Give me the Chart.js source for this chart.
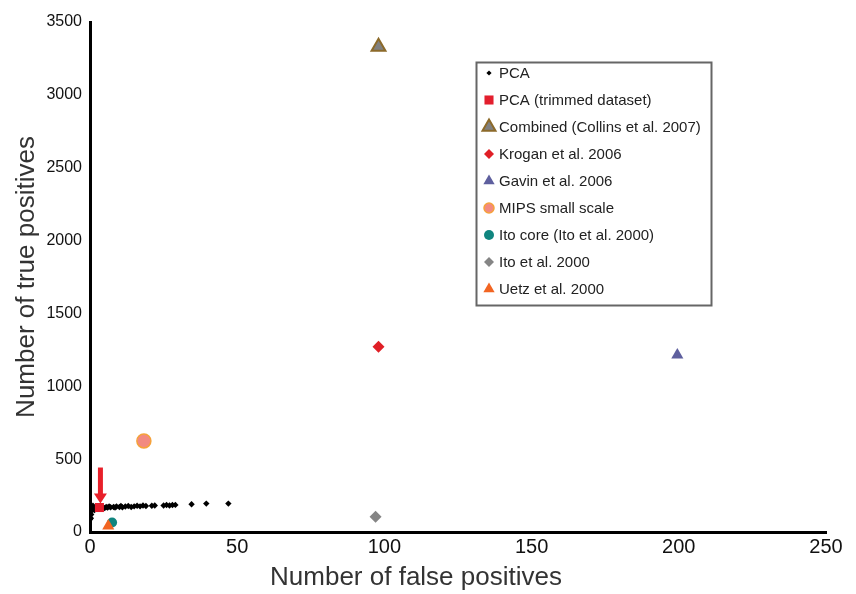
<!DOCTYPE html>
<html>
<head>
<meta charset="utf-8">
<script src="https://cdn.jsdelivr.net/npm/chart.js@4/dist/chart.umd.min.js"></script>
<style>
  html, body { margin: 0; padding: 0; background: #fff; }
  #wrap { width: 856px; height: 594px; }
</style>
</head>
<body>
<div id="wrap"><canvas id="chart"></canvas></div>
<script>
// --- data ---
const pcaX = [0, 0, 0, 0, 0.3, 0.4, 0.5, 0.8, 1, 1, 1.5, 2, 2.5, 3, 3.5, 4, 5, 5.5, 6, 6.5, 7, 8, 8.5, 9, 10, 10.5, 11, 12, 13, 14, 15, 16, 17, 18, 19, 21, 22, 25, 26, 27, 28, 29, 34.5, 39.5, 47];
const pcaY = [85, 100, 115, 130, 95, 120, 145, 160, 170, 180, 150, 165, 172, 160, 168, 175, 165, 172, 168, 175, 170, 172, 168, 175, 172, 178, 170, 175, 178, 172, 176, 180, 176, 182, 178, 180, 182, 182, 185, 182, 185, 186, 190, 195, 195];

const seriesNames = [
  'PCA', 'PCA (trimmed dataset)', 'Combined (Collins et al. 2007)', 'Krogan et al. 2006',
  'Gavin et al. 2006', 'MIPS small scale', 'Ito core (Ito et al. 2000)', 'Ito et al. 2000', 'Uetz et al. 2000'
];
// single-point series (false positives, true positives)
const trimmedPt  = [3.2, 168];
const combinedPt = [98, 3330];
const kroganPt   = [98, 1272];
const gavinPt    = [199.5, 1215];
const mipsPt     = [18.3, 625];
const itoCorePt  = [7.5, 65];
const itoPt      = [97, 105];
const uetzPt     = [6.2, 42];

const xTicks = [0, 50, 100, 150, 200, 250];
const yTicks = [0, 500, 1000, 1500, 2000, 2500, 3000, 3500];
const xTitle = 'Number of false positives';
const yTitle = 'Number of true positives';

// --- styles ---
const styles = [
  { pointStyle: 'rectRot',  radius: 3.2, bg: '#000000', border: '#000000', bw: 0, lr: 2.6 },
  { pointStyle: 'rect',     radius: 6.4, bg: '#e31e2d', border: '#e31e2d', bw: 0, lr: 6.4 },
  { pointStyle: 'triangle', radius: 8,   bg: '#808080', border: '#8c6a2a', bw: 2, lr: 7.5 },
  { pointStyle: 'rectRot',  radius: 6,   bg: '#e01f26', border: '#e01f26', bw: 0, lr: 5 },
  { pointStyle: 'triangle', radius: 7,   bg: '#5e5f9e', border: '#5e5f9e', bw: 0, lr: 6.5 },
  { pointStyle: 'circle',   radius: 7,   bg: '#f28a80', border: '#f5a23a', bw: 1.5, lr: 5 },
  { pointStyle: 'circle',   radius: 5,   bg: '#10857f', border: '#10857f', bw: 0, lr: 5 },
  { pointStyle: 'rectRot',  radius: 6,   bg: '#858585', border: '#858585', bw: 0, lr: 5 },
  { pointStyle: 'triangle', radius: 7,   bg: '#f26522', border: '#f26522', bw: 0, lr: 6.5 }
];

const pts = [
  pcaX.map((x, i) => ({ x, y: pcaY[i] })),
  [trimmedPt], [combinedPt], [kroganPt], [gavinPt], [mipsPt], [itoCorePt], [itoPt], [uetzPt]
].map((arr, i) => i === 0 ? arr : arr.map(p => ({ x: p[0], y: p[1] })));

const datasets = seriesNames.map((name, i) => ({
  label: name,
  data: pts[i],
  order: seriesNames.length - i, // later series drawn on top
  pointStyle: styles[i].pointStyle,
  pointRadius: styles[i].radius,
  pointHoverRadius: styles[i].radius,
  backgroundColor: styles[i].bg,
  borderColor: styles[i].border,
  pointBorderWidth: styles[i].bw,
  showLine: false
}));

const FONT = '"Liberation Sans", Arial, Helvetica, sans-serif';

// red arrow pointing at the trimmed PCA point
const arrowPlugin = {
  id: 'arrow',
  afterDatasetsDraw(chart) {
    const { ctx, scales } = chart;
    const cx = scales.x.getPixelForValue(trimmedPt[0]) + 1;
    const cy = scales.y.getPixelForValue(trimmedPt[1]);
    ctx.save();
    ctx.fillStyle = '#e8202a';
    ctx.fillRect(cx - 2.5, cy - 40, 5, 28);
    ctx.beginPath();
    ctx.moveTo(cx - 6.5, cy - 14);
    ctx.lineTo(cx + 6.5, cy - 14);
    ctx.lineTo(cx, cy - 4);
    ctx.closePath();
    ctx.fill();
    ctx.restore();
  }
};

// x title sits left of the axis centre in the original
const xTitlePlugin = {
  id: 'xTitle',
  afterDraw(chart) {
    const ctx = chart.ctx;
    ctx.save();
    ctx.font = '26px ' + FONT;
    ctx.fillStyle = '#333';
    ctx.textAlign = 'center';
    ctx.textBaseline = 'middle';
    ctx.fillText(xTitle, 416, 578);
    ctx.restore();
  }
};

// boxed legend inside the plot
const legendPlugin = {
  id: 'boxLegend',
  afterDraw(chart) {
    const ctx = chart.ctx;
    const bx = 476, by = 62, bw = 235, bh = 243;
    ctx.save();
    ctx.strokeStyle = '#666';
    ctx.lineWidth = 2;
    ctx.strokeRect(bx + 0.5, by + 0.5, bw, bh);
    ctx.font = '15px ' + FONT;
    ctx.textBaseline = 'middle';
    ctx.textAlign = 'left';
    const drawPoint = Chart.helpers && Chart.helpers.drawPoint;
    seriesNames.forEach((name, i) => {
      const y = by + 11 + i * 27;
      const s = styles[i];
      ctx.fillStyle = s.bg;
      ctx.strokeStyle = s.border;
      ctx.lineWidth = s.bw;
      if (drawPoint) {
        drawPoint(ctx, { pointStyle: s.pointStyle, rotation: 0, radius: s.lr, borderWidth: s.bw }, bx + 13, y);
      } else {
        ctx.beginPath(); ctx.arc(bx + 13, y, s.lr, 0, Math.PI * 2); ctx.fill();
      }
      ctx.fillStyle = '#222';
      ctx.fillText(name, bx + 23, y + 1);
    });
    ctx.restore();
  }
};

new Chart(document.getElementById('chart'), {
  type: 'scatter',
  data: { datasets },
  options: {
    responsive: true,
    maintainAspectRatio: false,
    animation: false,
    layout: { padding: { top: 22, right: 30, left: 0, bottom: 0 } },
    plugins: { legend: { display: false }, tooltip: { enabled: false } },
    scales: {
      x: {
        type: 'linear', min: 0, max: 250,
        afterBuildTicks: s => { s.ticks = xTicks.map(v => ({ value: v })); },
        afterFit: s => { s.height = 62; },
        grid: { display: false, drawTicks: false },
        border: { display: true, color: '#000', width: 3 },
        ticks: { color: '#111', font: { family: FONT, size: 20 }, padding: 3, maxRotation: 0, callback: v => String(v) },
        title: { display: false }
      },
      y: {
        type: 'linear', min: 0, max: 3500,
        afterBuildTicks: s => { s.ticks = yTicks.map(v => ({ value: v })); },
        afterFit: s => { s.width = 90; },
        grid: { display: false, drawTicks: false },
        border: { display: true, color: '#000', width: 3 },
        ticks: { color: '#111', font: { family: FONT, size: 16 }, padding: 8, callback: v => String(v) },
        title: { display: true, text: yTitle, color: '#333', font: { family: FONT, size: 26 }, padding: { top: 11, bottom: 0 } }
      }
    }
  },
  plugins: [arrowPlugin, xTitlePlugin, legendPlugin]
});
</script>
</body>
</html>
